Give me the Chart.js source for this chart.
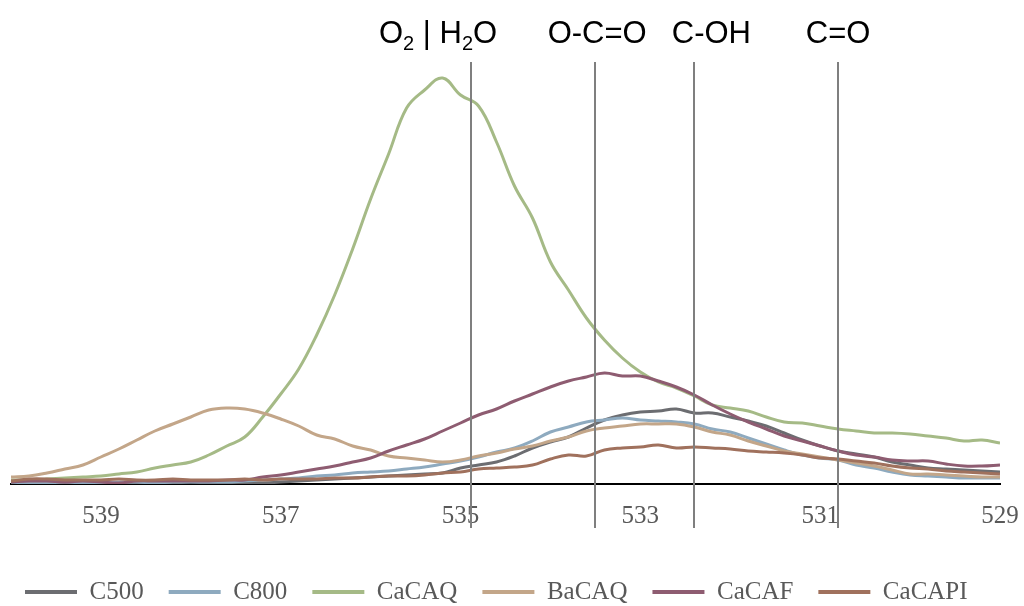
<!DOCTYPE html>
<html>
<head>
<meta charset="utf-8">
<script src="https://cdn.jsdelivr.net/npm/chart.js@4.4.1/dist/chart.umd.min.js"></script>
<style>
  html, body { margin: 0; padding: 0; background: #fff; }
  #wrap { width: 1024px; height: 606px; }
</style>
</head>
<body>
<div id="wrap"><canvas id="xps" width="1024" height="606"></canvas></div>
<script>
// ===== Data: O 1s spectra, binding energy (eV) read every 0.2 eV =====
const energies = [
  540.0, 539.8, 539.6, 539.4, 539.2, 539.0, 538.8, 538.6, 538.4, 538.2,
  538.0, 537.8, 537.6, 537.4, 537.2, 537.0, 536.8, 536.6, 536.4, 536.2,
  536.0, 535.8, 535.6, 535.4, 535.2, 535.0, 534.8, 534.6, 534.4, 534.2,
  534.0, 533.8, 533.6, 533.4, 533.2, 533.0, 532.8, 532.6, 532.4, 532.2,
  532.0, 531.8, 531.6, 531.4, 531.2, 531.0, 530.8, 530.6, 530.4, 530.2,
  530.0, 529.8, 529.6, 529.4, 529.2, 529.0
];

const c500 = [
  1, 1, 0, 1, 1, 2, 1, 1, 1, 1,
  2, 1, 1, 1, 1, 2, 3, 4, 5, 6,
  7, 8, 9, 10, 11, 16, 19, 22, 28, 36,
  42, 47, 56, 64, 69, 72, 73, 75, 71, 71,
  67, 63, 58, 51, 44, 38, 33, 30, 27, 22,
  19, 16, 15, 14, 13, 12
];

const c800 = [
  2, 1, 1, 2, 1, 1, 2, 2, 1, 2,
  2, 2, 2, 3, 4, 5, 6, 8, 9, 11,
  12, 13, 15, 17, 20, 23, 27, 32, 36, 43,
  52, 57, 62, 64, 66, 64, 63, 62, 60, 55,
  52, 46, 40, 34, 29, 26, 24, 19, 16, 12,
  9, 8, 7, 6, 6, 6
];

const caCAQ = [
  4, 4, 5, 6, 7, 8, 10, 12, 16, 19,
  22, 29, 38, 47, 67, 90, 115, 149, 189, 235,
  285, 330, 376, 394, 406, 389, 378, 342, 298, 266,
  222, 194, 166, 144, 126, 112, 102, 96, 88, 79,
  76, 73, 67, 62, 61, 58, 55, 53, 51, 51,
  50, 48, 46, 43, 44, 41
];

const baCAQ = [
  7, 8, 11, 15, 19, 27, 35, 44, 53, 60,
  67, 74, 76, 75, 71, 65, 58, 49, 45, 38,
  34, 28, 26, 24, 22, 24, 28, 31, 35, 38,
  43, 47, 53, 56, 58, 60, 60, 60, 57, 52,
  49, 43, 38, 33, 30, 27, 24, 21, 18, 14,
  10, 10, 9, 8, 7, 7
];

const caCAF = [
  2, 3, 3, 2, 3, 2, 1, 3, 3, 3,
  3, 3, 4, 4, 7, 9, 12, 15, 18, 22,
  26, 33, 39, 45, 53, 61, 69, 75, 83, 90,
  97, 103, 107, 111, 108, 108, 103, 97, 89, 79,
  70, 62, 55, 48, 43, 38, 33, 29, 27, 24,
  23, 23, 20, 18, 18, 19
];

const caCAPI = [
  3, 5, 5, 4, 4, 4, 5, 4, 4, 5,
  4, 4, 4, 5, 4, 5, 5, 5, 6, 6,
  7, 8, 8, 9, 11, 12, 15, 16, 17, 19,
  25, 29, 28, 34, 36, 37, 39, 36, 37, 36,
  35, 33, 32, 31, 29, 26, 25, 23, 21, 18,
  16, 15, 13, 12, 11, 10
];

const seriesNames = ["C500", "C800", "CaCAQ", "BaCAQ", "CaCAF", "CaCAPI"];
const seriesValues = [c500, c800, caCAQ, baCAQ, caCAF, caCAPI];
const seriesColors = ["#6c6d71", "#8eaabf", "#a5ba86", "#c3a689", "#8e5c71", "#a0715d"];

const xTicks = [539, 537, 535, 533, 531, 529];

// reference lines and their labels (binding energy, eV)
const peakLines = [534.88, 533.5, 532.4, 530.8];
const labelEnergies = [535.25, 533.48, 532.21, 530.8];
const peakLabels = [
  [{ t: "O" }, { t: "2", sub: true }, { t: " | H" }, { t: "2", sub: true }, { t: "O" }],
  [{ t: "O-C=O" }],
  [{ t: "C-OH" }],
  [{ t: "C=O" }]
];

// ===== Reference lines + labels =====
const peakMarkers = {
  id: "peakMarkers",
  afterDatasetsDraw(chart) {
    const { ctx } = chart;
    const x = chart.scales.x;
    ctx.save();
    ctx.strokeStyle = "#7f7f7f";
    ctx.lineWidth = 2;
    peakLines.forEach(e => {
      const px = Math.round(x.getPixelForValue(e));
      ctx.beginPath();
      ctx.moveTo(px, 62);
      ctx.lineTo(px, 528);
      ctx.stroke();
    });

    ctx.fillStyle = "#000";
    ctx.textBaseline = "alphabetic";
    ctx.textAlign = "left";
    const bigFont = '31px "Liberation Sans", Arial, sans-serif';
    const subFont = '20px "Liberation Sans", Arial, sans-serif';
    peakLabels.forEach((parts, i) => {
      const widths = parts.map(p => {
        ctx.font = p.sub ? subFont : bigFont;
        return ctx.measureText(p.t).width;
      });
      const total = widths.reduce((a, b) => a + b, 0);
      let cx = x.getPixelForValue(labelEnergies[i]) - total / 2;
      parts.forEach((p, j) => {
        ctx.font = p.sub ? subFont : bigFont;
        ctx.fillText(p.t, cx, p.sub ? 50 : 43);
        cx += widths[j];
      });
    });
    ctx.restore();
  }
};

// ===== Chart =====
const serif = '"Liberation Serif", "Times New Roman", serif';

const datasets = seriesNames.map((name, i) => ({
  label: name,
  data: energies.map((e, k) => ({ x: e, y: seriesValues[i][k] })),
  borderColor: seriesColors[i],
  backgroundColor: seriesColors[i],
  borderWidth: 3,
  pointRadius: 0,
  tension: 0.4,
  fill: false,
  order: -i
}));

new Chart(document.getElementById("xps"), {
  type: "line",
  data: { datasets },
  plugins: [peakMarkers],
  options: {
    responsive: false,
    animation: false,
    devicePixelRatio: 1,
    layout: { padding: { top: 64, left: 0, right: 0, bottom: 0 } },
    plugins: {
      tooltip: { enabled: false },
      legend: {
        position: "bottom",
        align: "start",
        maxHeight: 58,
        title: { display: true, text: "", font: { size: 5, lineHeight: 1.3 }, padding: 0 },
        labels: {
          font: { family: serif, size: 25 },
          color: "#595959",
          boxWidth: 52,
          boxHeight: 4,
          padding: 25,
          sort: (a, b) => a.datasetIndex - b.datasetIndex,
          generateLabels: chart =>
            Chart.defaults.plugins.legend.labels.generateLabels(chart).map(l => ({
              ...l,
              fillStyle: seriesColors[l.datasetIndex],
              lineWidth: 0
            }))
        }
      }
    },
    scales: {
      x: {
        type: "linear",
        reverse: true,
        min: 529,
        max: 540,
        afterBuildTicks: s => { s.ticks = xTicks.map(v => ({ value: v })); },
        afterFit: s => { s.paddingLeft = 11; s.paddingRight = 24; },
        grid: { display: false, drawTicks: false },
        border: { display: true, color: "#000", width: 2 },
        ticks: {
          font: { family: serif, size: 25, lineHeight: 1.2 },
          color: "#595959",
          padding: 17,
          maxRotation: 0,
          autoSkip: false
        }
      },
      y: {
        display: false,
        min: 0,
        max: 420
      }
    }
  }
});
</script>
</body>
</html>
